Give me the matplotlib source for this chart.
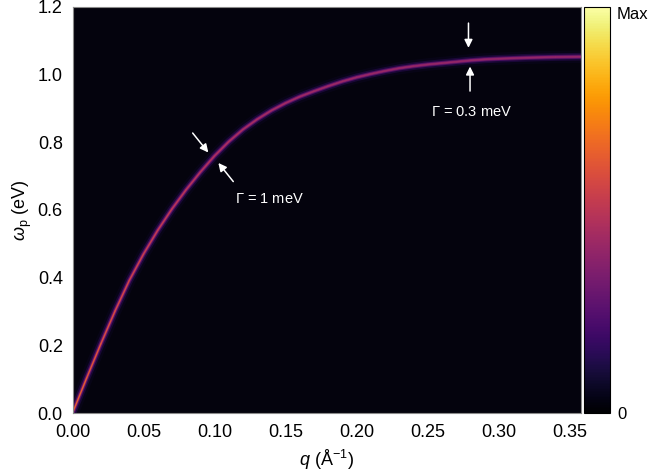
import numpy as np
import matplotlib
matplotlib.use("Agg")
import matplotlib.pyplot as plt
from matplotlib.collections import LineCollection
from matplotlib.colors import ListedColormap, Normalize
from matplotlib.cm import ScalarMappable

plt.rcParams["font.family"] = ["Liberation Sans", "DejaVu Sans"]
plt.rcParams["mathtext.fontset"] = "custom"
plt.rcParams["mathtext.rm"] = "Liberation Sans"
plt.rcParams["mathtext.it"] = "Liberation Sans:italic"

# plasmon dispersion
q_vals = [0.000, 0.010, 0.020, 0.030, 0.040, 0.050, 0.060, 0.070, 0.080, 0.090,
          0.100, 0.110, 0.120, 0.130, 0.140, 0.150, 0.160, 0.170, 0.180, 0.190,
          0.200, 0.210, 0.220, 0.230, 0.240, 0.250, 0.260, 0.270, 0.280, 0.290,
          0.300, 0.320, 0.340, 0.358]
w_vals = [0.000, 0.104, 0.205, 0.302, 0.392, 0.470, 0.540, 0.603, 0.660, 0.712,
          0.760, 0.802, 0.838, 0.868, 0.894, 0.916, 0.935, 0.951, 0.966, 0.980,
          0.992, 1.002, 1.011, 1.019, 1.025, 1.030, 1.034, 1.038, 1.042, 1.045,
          1.047, 1.050, 1.052, 1.053]

gamma_labels = [r"$\mathit{\Gamma}$ = 1 meV", r"$\mathit{\Gamma}$ = 0.3 meV"]
cbar_labels = ["0", "Max"]

cmap = plt.get_cmap("inferno")

fig = plt.figure(figsize=(6.51, 4.75), dpi=100)
ax = fig.add_axes([0.1114, 0.1305, 0.781, 0.8548])
cax = fig.add_axes([0.897, 0.1305, 0.040, 0.8548])

ax.set_facecolor("#04030d")

# glow around the peak
for lw, c, a in [(9, 0.08, 0.30), (5.5, 0.15, 0.50), (3.2, 0.26, 0.75), (1.9, 0.36, 0.9)]:
    ax.plot(q_vals, w_vals, color=cmap(c), lw=lw, alpha=a, solid_capstyle="butt",
            solid_joinstyle="round")

# core of the line, dimmer where the width is smaller
pts = np.column_stack([q_vals, w_vals]).reshape(-1, 1, 2)
segs = np.concatenate([pts[:-1], pts[1:]], axis=1)
core_cmap = ListedColormap(cmap(np.linspace(0.63, 0.40, 256)))
lc = LineCollection(segs, cmap=core_cmap, norm=Normalize(0, 1.05), linewidths=1.0,
                    capstyle="round")
lc.set_array(np.array(w_vals[:-1]))
ax.add_collection(lc)

ax.set_xlim(0, 0.358)
ax.set_ylim(0, 1.2)
ax.set_xticks(np.arange(0, 0.351, 0.05))
ax.set_yticks(np.arange(0, 1.21, 0.2))
ax.xaxis.set_major_formatter(plt.FormatStrFormatter("%.2f"))
ax.yaxis.set_major_formatter(plt.FormatStrFormatter("%.1f"))
ax.tick_params(axis="both", length=0, labelsize=13)
ax.tick_params(axis="x", pad=8)
ax.tick_params(axis="y", pad=7)
for sp in ax.spines.values():
    sp.set_color("#8a8a8a")
    sp.set_linewidth(0.8)

ax.set_xlabel(r"$q$ (Å$^{-1}$)", fontsize=13, labelpad=5)
ax.set_ylabel(r"$\omega_{\mathrm{p}}$ (eV)", fontsize=13, labelpad=3)

# arrows marking the two line widths
arrow = dict(arrowstyle="-|>", color="white", lw=1.1, mutation_scale=12, shrinkA=0, shrinkB=0)
ax.annotate("", xy=(0.0956, 0.770), xytext=(0.0846, 0.8275), arrowprops=arrow)
ax.annotate("", xy=(0.1027, 0.739), xytext=(0.1132, 0.684), arrowprops=arrow)
ax.text(0.1144, 0.633, gamma_labels[0], color="white", fontsize=10.5, ha="left", va="center")

ax.annotate("", xy=(0.2788, 1.0793), xytext=(0.2788, 1.1524), arrowprops=arrow)
ax.annotate("", xy=(0.2799, 1.0240), xytext=(0.2799, 0.9515), arrowprops=arrow)
ax.text(0.2811, 0.8896, gamma_labels[1], color="white", fontsize=10.5, ha="center", va="center")

# colour bar
sm = ScalarMappable(norm=Normalize(0, 1), cmap=cmap)
cb = fig.colorbar(sm, cax=cax)
cb.set_ticks([0, 0.985])
cb.set_ticklabels(cbar_labels)
cb.ax.tick_params(length=0, labelsize=12, pad=5)
cb.outline.set_edgecolor("black")
cb.outline.set_linewidth(0.8)

fig.savefig("out.png", dpi=100)
